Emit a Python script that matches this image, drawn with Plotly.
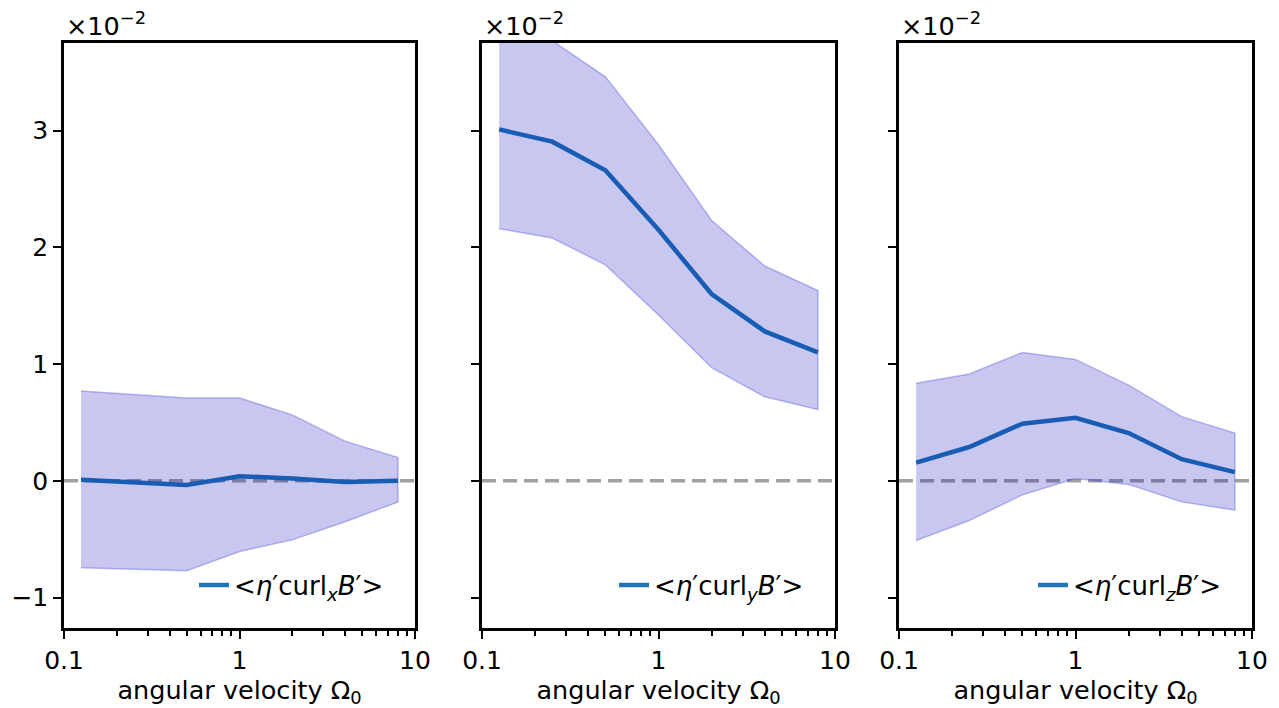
import plotly.graph_objects as go

# angular velocity values (x)
omega = [0.125, 0.25, 0.5, 1, 2, 4, 8]

# values in units of 1e-2
mean_x = [0.01, -0.01, -0.035, 0.04, 0.02, -0.01, 0.0]
upper_x = [0.77, 0.74, 0.71, 0.71, 0.565, 0.34, 0.20]
lower_x = [-0.745, -0.755, -0.77, -0.605, -0.505, -0.35, -0.18]

mean_y = [3.01, 2.905, 2.66, 2.15, 1.60, 1.28, 1.10]
upper_y = [3.95, 3.77, 3.46, 2.88, 2.23, 1.84, 1.63]
lower_y = [2.16, 2.08, 1.85, 1.42, 0.97, 0.72, 0.61]

mean_z = [0.157, 0.29, 0.49, 0.54, 0.41, 0.186, 0.075]
upper_z = [0.836, 0.916, 1.10, 1.04, 0.82, 0.55, 0.41]
lower_z = [-0.51, -0.34, -0.12, 0.02, -0.03, -0.18, -0.25]

labels = ["&lt;<i>η</i>′curl<sub><i>x</i></sub><i>B</i>′&gt;",
          "&lt;<i>η</i>′curl<sub><i>y</i></sub><i>B</i>′&gt;",
          "&lt;<i>η</i>′curl<sub><i>z</i></sub><i>B</i>′&gt;"]

y_ticks = [-1, 0, 1, 2, 3]
x_ticks = [0.1, 1, 10]
x_tick_text = ["0.1", "1", "10"]

FONT = "DejaVu Sans"
FS_TICK = 25
FS_TITLE = 25.5
FS_LEG = 26

W, H = 1279, 708
panels = [(mean_x, upper_x, lower_x), (mean_y, upper_y, lower_y), (mean_z, upper_z, lower_z)]
domains = [(64 / W, 415 / W), (482 / W, 835 / W), (899 / W, 1252 / W)]
ydom = (1 - 628 / H, 1 - 43 / H)

fig = go.Figure()
legend_names = ["legend", "legend2", "legend3"]

for i, (m, up, lo) in enumerate(panels):
    xa = "x" if i == 0 else f"x{i+1}"
    ya = "y" if i == 0 else f"y{i+1}"
    fig.add_trace(go.Scatter(x=omega, y=m, mode="lines", name=labels[i],
                             line=dict(color="#1f77b4", width=4.5),
                             xaxis=xa, yaxis=ya, legend=legend_names[i], showlegend=True))
    fig.add_trace(go.Scatter(x=omega + omega[::-1], y=up + lo[::-1], mode="lines",
                             fill="toself", fillcolor="rgba(0,0,180,0.22)",
                             line=dict(color="rgba(70,70,220,0.35)", width=1.5),
                             xaxis=xa, yaxis=ya, showlegend=False, hoverinfo="skip"))
    # zero reference
    fig.add_shape(type="line", xref=f"{xa} domain", yref=ya, x0=0, x1=1, y0=0, y1=0,
                  line=dict(color="rgba(160,160,160,1)", width=3.5, dash="14px,7px"),
                  layer="below")
    fig.add_annotation(xref=f"{xa} domain", yref="paper", x=0, y=ydom[1] + 0.0,
                       xanchor="left", yanchor="bottom", showarrow=False,
                       text="×10<sup>−2</sup>", font=dict(family=FONT, size=FS_TITLE, color="black"))

axis_common = dict(showline=True, linecolor="black", linewidth=2.5, mirror=True,
                   ticks="outside", ticklen=8, tickwidth=2, tickcolor="black",
                   showgrid=False, zeroline=False, automargin=False,
                   tickfont=dict(family=FONT, size=FS_TICK, color="black"))

fig.update_layout(
    width=W, height=H,
    margin=dict(l=0, r=0, t=0, b=0, autoexpand=False),
    paper_bgcolor="white", plot_bgcolor="white",
    font=dict(family=FONT, size=FS_TICK, color="black"),
)

for i in range(3):
    xkey = "xaxis" if i == 0 else f"xaxis{i+1}"
    ykey = "yaxis" if i == 0 else f"yaxis{i+1}"
    xa = "x" if i == 0 else f"x{i+1}"
    ya = "y" if i == 0 else f"y{i+1}"
    fig.update_layout({
        xkey: dict(type="log", domain=list(domains[i]), anchor=ya, range=[-1, 1],
                   tickvals=x_ticks, ticktext=x_tick_text,
                   minor=dict(ticks="outside", ticklen=5, tickwidth=1.5, tickcolor="black",
                              tickvals=[k * 10 ** e for e in (-1, 0) for k in range(2, 10)]),
                   title=dict(text="angular velocity Ω<sub>0</sub>", standoff=9,
                              font=dict(family=FONT, size=FS_TITLE, color="black")),
                   **axis_common),
        ykey: dict(domain=list(ydom), anchor=xa, range=[-1.26, 3.75],
                   tickvals=y_ticks, showticklabels=(i == 0),
                   **axis_common),
    })

for i, ln in enumerate(legend_names):
    fig.update_layout({ln: dict(x=(domains[i][1] * W - 26) / W, y=1 - 585 / H,
                                xanchor="right", yanchor="middle",
                                bgcolor="rgba(255,255,255,0)", borderwidth=0,
                                font=dict(family=FONT, size=FS_LEG, color="black"))})

fig.write_html("out.html")
